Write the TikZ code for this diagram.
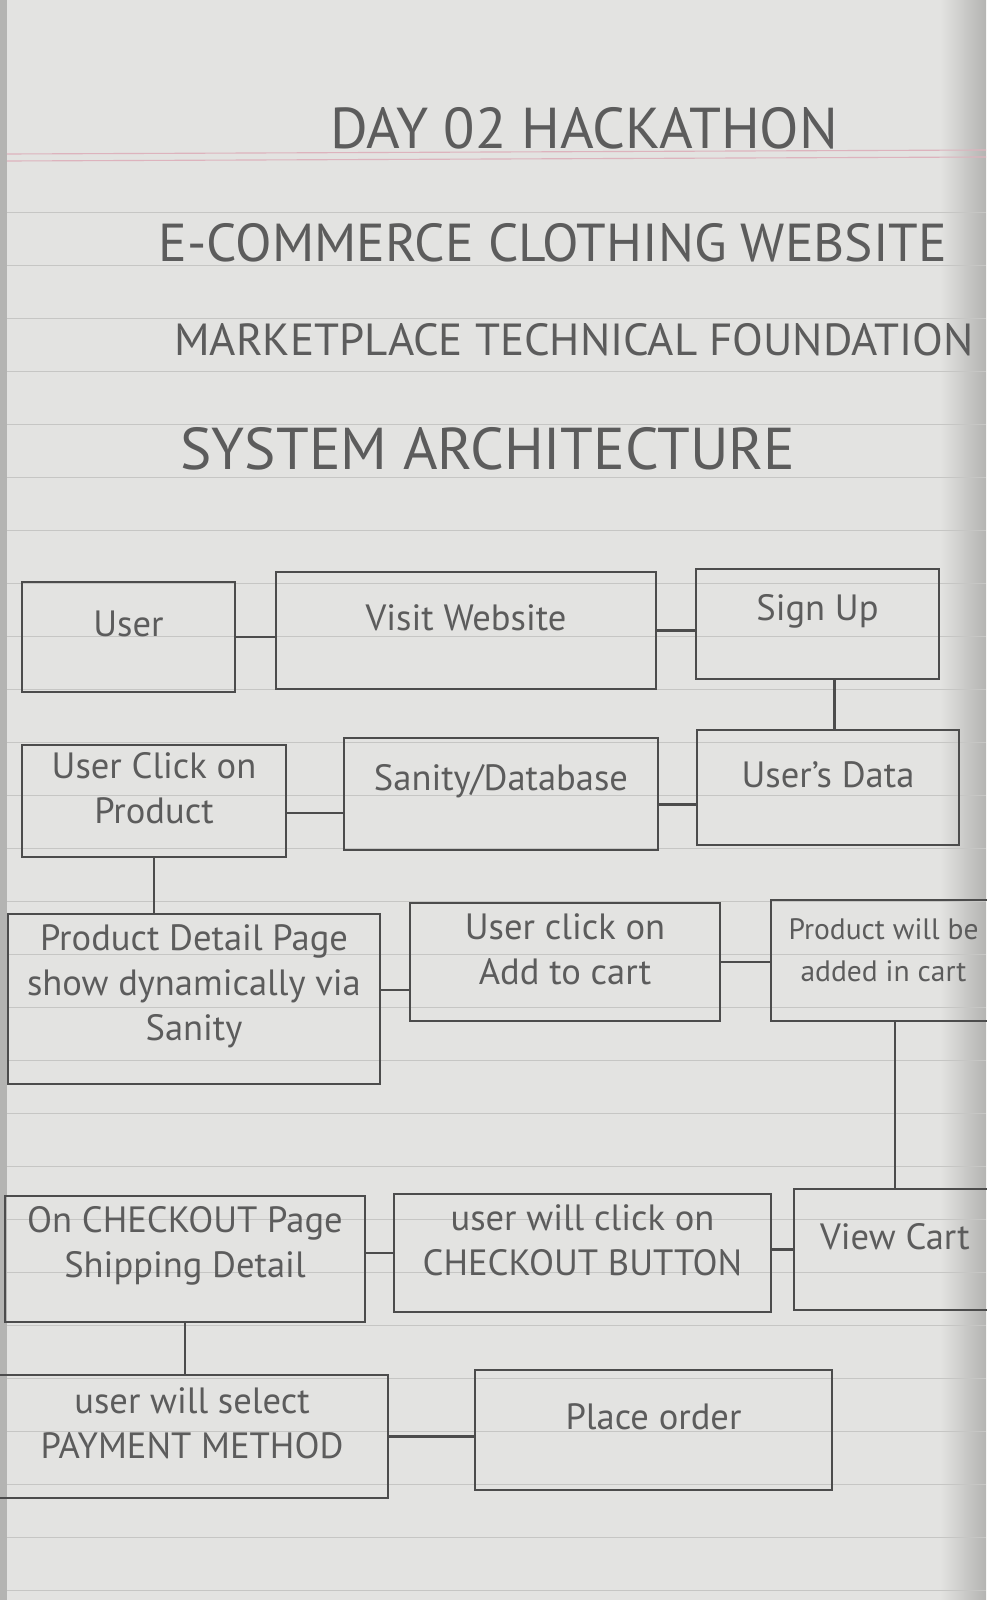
\documentclass[tikz,border=0pt]{standalone}
\usepackage{fontspec}
\setmainfont{PT Sans}
\usetikzlibrary{calc,fit}
\definecolor{paper}{HTML}{E3E3E1}
\definecolor{ruling}{HTML}{C6C6C4}
\definecolor{margin}{HTML}{DDB3BD}
\definecolor{pencil}{HTML}{4C4C4C}
\definecolor{pencilsoft}{HTML}{5C5C5C}
\definecolor{pageedge}{HTML}{B4B4B2}

\begin{document}
\begin{tikzpicture}[
  x=0.25mm, y=-0.25mm,
  title/.style={text=pencilsoft, inner sep=0pt},
  box/.style={draw=pencil, line width=1.8pt, inner sep=0pt, align=center,
    text=pencilsoft, font=\fontsize{26}{32}\selectfont},
  upper/.style={text height=6.5mm, text depth=10mm},
  link/.style={draw=pencil, line width=2pt},
  rule/.style={draw=ruling, line width=0.7pt}
]

% ---------------------------------------------------------------------------
% the notebook page
% ---------------------------------------------------------------------------
\fill[paper] (0,0) rectangle (986,1600);
\useasboundingbox (0,0) rectangle (986,1600);
\shade[left color=paper, right color=pageedge] (940,0) rectangle (986,1600);
\fill[pageedge] (0,0) rectangle (7,1600);
\foreach \y in {212,265,...,1600}
  \draw[rule] (7,\y) -- (986,\y);
\draw[margin, line width=0.8pt] (7,154) -- (986,150);
\draw[margin, line width=0.8pt] (7,161) -- (986,157);

% ---------------------------------------------------------------------------
% headings
% ---------------------------------------------------------------------------
\node[title, font=\fontsize{41}{46}\selectfont] (day) at (584,128) {DAY 02 HACKATHON};
\node[title, font=\fontsize{38}{44}\selectfont] (shop) at (553,243) {E-COMMERCE CLOTHING WEBSITE};
\node[title, font=\fontsize{32}{38}\selectfont] (found) at (574,340) {MARKETPLACE TECHNICAL FOUNDATION};
\node[title, font=\fontsize{42}{48}\selectfont] (arch) at (488,449) {SYSTEM ARCHITECTURE};

% ---------------------------------------------------------------------------
% flow boxes, row by row
% ---------------------------------------------------------------------------
\node[box, upper, fit={(22,582) (235,692)}] (user) {User};
\node[box, upper, fit={(276,572) (656,689)}] (visit) {Visit Website};
\node[box, upper, fit={(696,569) (939,679)}] (signup) {Sign Up};

\node[box, fit={(22,745) (286,857)}] (click) {User Click on\\Product};
\node[box, upper, fit={(344,738) (658,850)}] (sanity) {Sanity/Database};
\node[box, upper, fit={(697,730) (959,845)}] (usrdata) {User's Data};

\node[box, fit={(8,914) (380,1084)}] (detail) {Product Detail Page\\show dynamically via\\Sanity};
\node[box, fit={(410,903) (720,1021)}] (addcart) {User click on\\Add to cart};
\node[box, font=\fontsize{21}{30}\selectfont, fit={(771,900) (996,1021)}] (added) {Product will be\\added in cart};

\node[box, fit={(5,1196) (365,1322)}] (checkout) {On CHECKOUT Page\\Shipping Detail};
\node[box, fit={(394,1194) (771,1312)}] (clickbtn) {user will click on\\CHECKOUT BUTTON};
\node[box, upper, fit={(794,1189) (996,1310)}] (viewcart) {View Cart};

\node[box, fit={(-4,1375) (388,1498)}] (payment) {user will select\\PAYMENT METHOD};
\node[box, upper, fit={(475,1370) (832,1490)}] (order) {Place order};

% ---------------------------------------------------------------------------
% links
% ---------------------------------------------------------------------------
\draw[link] (user.east) -- (user.east -| visit.west);
\draw[link] (visit.east) -- (visit.east -| signup.west);
\draw[link] ($(signup.south)+(17,0)$) -- ($(signup.south |- usrdata.north)+(17,0)$);
\draw[link] ($(click.east)+(0,12)$) -- ($(click.east -| sanity.west)+(0,12)$);
\draw[link] ($(usrdata.west)+(0,17)$) -- ($(usrdata.west -| sanity.east)+(0,17)$);
\draw[link] (click.south) -- (click.south |- detail.north);
\draw[link] ($(detail.east)+(0,-9)$) -- ($(detail.east -| addcart.west)+(0,-9)$);
\draw[link] (addcart.east) -- (addcart.east -| added.west);
\draw[link] (added.south -| viewcart.north) -- (viewcart.north);
\draw[link] (viewcart.west) -- (viewcart.west -| clickbtn.east);
\draw[link] (clickbtn.west) -- (clickbtn.west -| checkout.east);
\draw[link] (checkout.south) -- (checkout.south |- payment.north);
\draw[link] (payment.east) -- (payment.east -| order.west);

\end{tikzpicture}
\end{document}
